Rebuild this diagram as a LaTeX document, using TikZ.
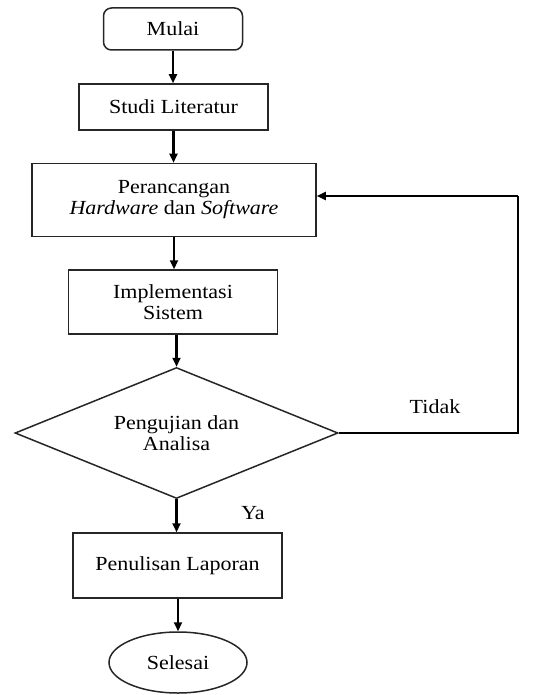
\documentclass[tikz,border=0pt]{standalone}
\usepackage{fontspec}
\setmainfont[FakeStretch=1.1]{Liberation Serif}
\usetikzlibrary{shapes.geometric,arrows.meta}
\tikzset{
  box/.style={draw=black!85, line width=1.5pt, rectangle, inner sep=0pt, align=center,
    font=\fontsize{20}{21}\selectfont},
  startbox/.style={box, rounded corners=8pt},
  endbox/.style={box, ellipse},
  decision/.style={box, diamond, aspect=2.47},
  flow/.style={line width=2.2pt, -{Triangle[length=9pt,width=8pt]}},
  loopline/.style={line width=2.2pt},
  lbl/.style={font=\fontsize{20}{21}\selectfont, inner sep=0pt}
}
\begin{document}
\begin{tikzpicture}[x=1pt,y=-1pt]
\useasboundingbox (0,0) rectangle (538,695);
\node[startbox, minimum width=139pt, minimum height=42pt] (mulai) at (173,29) {Mulai};
\node[box, minimum width=189pt, minimum height=46pt] (studi) at (173.5,107) {Studi Literatur};
\node[box, minimum width=284pt, minimum height=73pt] (peran) at (174,200) {Perancangan\\\textit{Hardware} dan \textit{Software}};
\node[box, minimum width=209pt, minimum height=64pt] (impl) at (173,302) {Implementasi\\Sistem};
\node[decision, minimum width=323pt, minimum height=131pt] (uji) at (176.5,433) {Pengujian dan\\Analisa};
\node[box, minimum width=209pt, minimum height=65pt] (tulis) at (177.5,565.5) {Penulisan Laporan};
\node[endbox, minimum width=138pt, minimum height=61pt] (selesai) at (178,662.5) {Selesai};
\coordinate (c1) at (518,433);
\coordinate (c2) at (518,196);
\node[lbl] (tidak) at (435,407) {Tidak};
\node[lbl] (ya) at (253,513) {Ya};
\draw[flow] (mulai.south) -- (mulai.south |- studi.north);
\draw[flow] (studi.south) -- (studi.south |- peran.north);
\draw[flow] (peran.south) -- (peran.south |- impl.north);
\draw[flow] (impl.south -| uji.north) -- (uji.north);
\draw[flow] (uji.south) -- (uji.south |- tulis.north);
\draw[flow] (tulis.south -| selesai.north) -- (selesai.north);
\draw[loopline] (uji.east) -- (c1) -- (c2);
\draw[flow] (c2) -- (c2 -| peran.east);
\end{tikzpicture}
\end{document}
